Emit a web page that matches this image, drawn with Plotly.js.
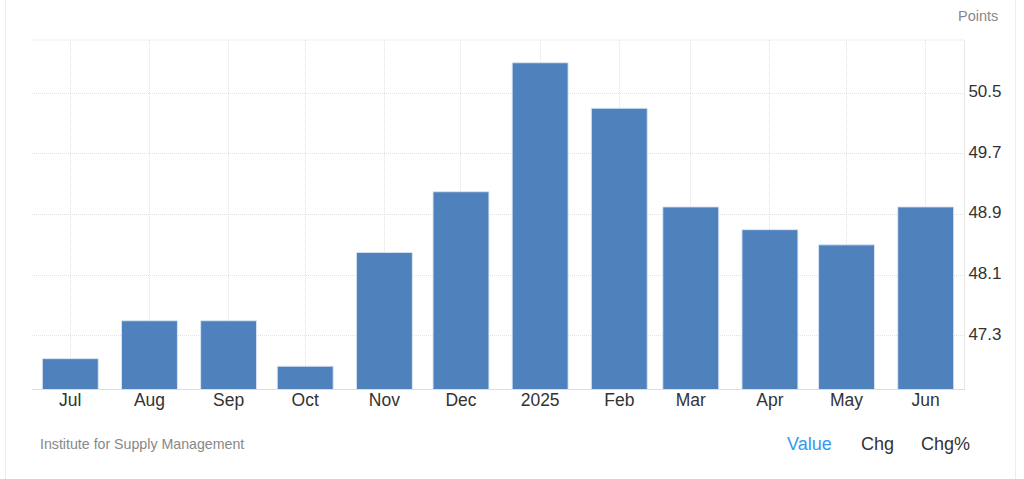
<!DOCTYPE html>
<html>
<head>
<meta charset="utf-8">
<script src="https://cdn.plot.ly/plotly-3.0.1.min.js"></script>
<style>
  html, body { margin: 0; padding: 0; background: #fff; }
  #wrap { position: relative; width: 1024px; height: 479px; overflow: hidden; }
  #frame { position: absolute; left: 5px; top: -2px; width: 1009px; height: 483px;
           border-left: 1px solid #ececec; border-right: 1px solid #ececec; pointer-events: none; }
  #chart { position: absolute; left: 0; top: 0; width: 1024px; height: 479px; }
</style>
</head>
<body>
<div id="wrap">
  <div id="chart"></div>
  <div id="frame"></div>
</div>
<script>
const categories = ["Jul", "Aug", "Sep", "Oct", "Nov", "Dec", "2025", "Feb", "Mar", "Apr", "May", "Jun"];
const dates = ["2024-07-01", "2024-08-01", "2024-09-01", "2024-10-01", "2024-11-01", "2024-12-01",
               "2025-01-01", "2025-02-01", "2025-03-01", "2025-04-01", "2025-05-01", "2025-06-01"];
const values = [47.0, 47.5, 47.5, 46.9, 48.4, 49.2, 50.9, 50.3, 49.0, 48.7, 48.5, 49.0];
const yTicks = [47.3, 48.1, 48.9, 49.7, 50.5];
const yTickLabels = ["47.3", "48.1", "48.9", "49.7", "50.5"];

const FONT = "Liberation Sans, Arial, sans-serif";
const DAY = 86400000;

const trace = {
  type: "bar",
  x: dates,
  y: values,
  width: dates.map(() => 21.9 * DAY),
  marker: { color: "#4f81bd", line: { color: "rgba(220,230,245,0.9)", width: 1 } },
  hoverinfo: "x+y"
};

const layout = {
  width: 1024,
  height: 479,
  margin: { l: 32, r: 60, t: 40, b: 90 },
  paper_bgcolor: "#ffffff",
  plot_bgcolor: "#ffffff",
  showlegend: false,
  font: { family: FONT, color: "#333333", size: 16 },
  xaxis: {
    type: "date",
    range: ["2024-06-16", "2025-06-16"],
    tickmode: "array",
    tickvals: dates,
    ticktext: categories,
    showgrid: true,
    gridcolor: "#e2e2e2",
    griddash: "1px,1px",
    gridwidth: 1,
    showline: true,
    linecolor: "#dddddd",
    linewidth: 1,
    ticks: "",
    ticklabelstandoff: -5,
    tickfont: { family: FONT, size: 17.5, color: "#333333" },
    fixedrange: true
  },
  yaxis: {
    side: "right",
    range: [46.6, 51.2],
    tickvals: yTicks,
    ticktext: yTickLabels,
    showgrid: true,
    gridcolor: "#e2e2e2",
    griddash: "1px,1px",
    gridwidth: 1,
    zeroline: false,
    showline: true,
    linecolor: "#e6e6e6",
    linewidth: 1,
    ticks: "",
    ticklabelstandoff: 0,
    ticklabelshift: -2,
    tickfont: { family: FONT, size: 17, color: "#333333" },
    fixedrange: true
  },
  shapes: [
    { type: "line", xref: "paper", yref: "paper", x0: 0, x1: 1, y0: 1, y1: 1,
      line: { color: "#e2e2e2", width: 1, dash: "1px,1px" } }
  ],
  annotations: [
    { text: "Points", xref: "paper", yref: "paper", x: 1, y: 1,
      xanchor: "right", yanchor: "middle", xshift: 36, yshift: 24, showarrow: false,
      font: { family: FONT, size: 14.5, color: "#888888" } },
    { text: "Institute for Supply Management", xref: "paper", yref: "paper",
      x: 0, y: 0, xanchor: "left", yanchor: "middle", xshift: 6, yshift: -55,
      showarrow: false, font: { family: FONT, size: 14.2, color: "#888888" } },
    { text: "Value", xref: "paper", yref: "paper", x: 0, y: 0, xanchor: "left", yanchor: "middle",
      xshift: 753, yshift: -55, showarrow: false, font: { family: FONT, size: 18, color: "#3399f3" } },
    { text: "Chg", xref: "paper", yref: "paper", x: 0, y: 0, xanchor: "left", yanchor: "middle",
      xshift: 827, yshift: -55, showarrow: false, font: { family: FONT, size: 18, color: "#333333" } },
    { text: "Chg%", xref: "paper", yref: "paper", x: 0, y: 0, xanchor: "left", yanchor: "middle",
      xshift: 887, yshift: -55, showarrow: false, font: { family: FONT, size: 18, color: "#333333" } }
  ]
};

Plotly.newPlot("chart", [trace], layout, { displayModeBar: false, staticPlot: true });
</script>
</body>
</html>
